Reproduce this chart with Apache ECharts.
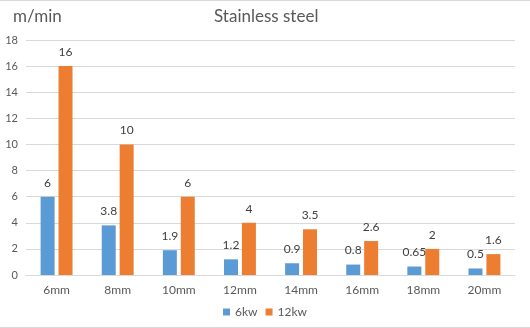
<!DOCTYPE html>
<html><head><meta charset="utf-8">
<script src="https://cdn.jsdelivr.net/npm/echarts@6/dist/echarts.min.js"></script>
<style>html,body{margin:0;padding:0;background:#fff}#c{width:530px;height:328px}</style>
</head><body><div id="c"></div>
<script>
const categories = ['6mm','8mm','10mm','12mm','14mm','16mm','18mm','20mm'];
const kw6 = [6, 3.8, 1.9, 1.2, 0.9, 0.8, 0.65, 0.5];
const kw12 = [16, 10, 6, 4, 3.5, 2.6, 2, 1.6];
const seriesNames = ['6kw','12kw'];
const FONT = 'Lato';
const chart = echarts.init(document.getElementById('c'));
const lbl = {show:true, position:'top', distance:8, color:'#404040', fontSize:12, fontFamily:FONT};
chart.setOption({
  animation:false,
  textStyle:{fontFamily:FONT},
  title:[{text:'Stainless steel', top:8, textStyle:{fontSize:17, fontWeight:'normal', color:'#595959', fontFamily:FONT}, padding:0, left:214},
         {text:'m/min', left:13, top:8, textStyle:{fontSize:17, fontWeight:'normal', color:'#595959', fontFamily:FONT}, padding:0}],
  legend:{data:seriesNames, top:301, left:'center', itemWidth:7, itemHeight:7, itemGap:8, icon:'rect',
    textStyle:{color:'#595959', fontSize:12, fontFamily:FONT}},
  grid:{left:26, right:15, top:40, bottom:53},
  xAxis:{type:'category', data:categories,
    axisLine:{lineStyle:{color:'#d9d9d9'}}, axisTick:{show:false},
    axisLabel:{color:'#595959', fontSize:12, margin:9, fontFamily:FONT}},
  yAxis:{type:'value', min:0, max:18, interval:2,
    axisLine:{show:false}, axisTick:{show:false},
    splitLine:{lineStyle:{color:'#d9d9d9'}},
    axisLabel:{color:'#595959', fontSize:11, margin:8, fontFamily:FONT}},
  series:[
    {name:seriesNames[0], type:'bar', data:kw6, barWidth:14, barGap:'28%', itemStyle:{color:'#5B9BD5'}, label:lbl},
    {name:seriesNames[1], type:'bar', data:kw12, barWidth:14, barGap:'28%', itemStyle:{color:'#ED7D31'}, label:lbl}
  ],
  graphic:[
    {type:'line', shape:{x1:0,y1:0.5,x2:530,y2:0.5}, style:{stroke:'#d9d9d9', lineWidth:1}},
    {type:'line', shape:{x1:0,y1:327.5,x2:530,y2:327.5}, style:{stroke:'#d9d9d9', lineWidth:1}}
  ]
});
</script></body></html>
